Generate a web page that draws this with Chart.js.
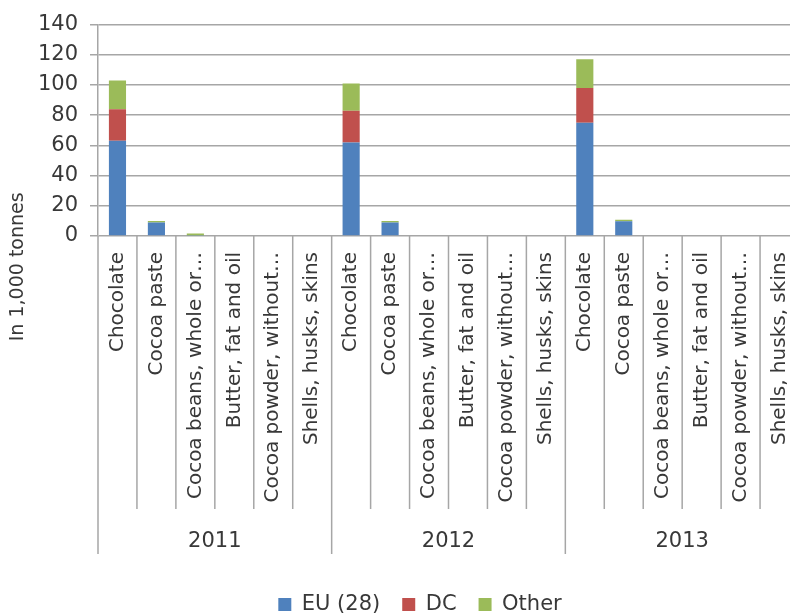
<!DOCTYPE html>
<html>
<head>
<meta charset="utf-8">
<script src="https://cdn.jsdelivr.net/npm/chart.js@4.4.1/dist/chart.umd.min.js"></script>
<style>
  html, body { margin: 0; padding: 0; overflow: hidden; background: #fff; }
  #wrap { width: 840px; height: 630px; }
</style>
</head>
<body>
<div id="wrap"><canvas id="trade" width="840" height="630"></canvas></div>
<script>
// products shown under each year
const products = ['Chocolate', 'Cocoa paste', 'Cocoa beans, whole or\u2026', 'Butter, fat and oil', 'Cocoa powder, without\u2026', 'Shells, husks, skins'];
const years = ['2011', '2012', '2013'];

// in 1,000 tonnes, 2011 | 2012 | 2013
const euValues    = [63, 9, 0.3, 0, 0, 0,   62, 9, 0, 0, 0, 0,   75, 9.7, 0, 0, 0, 0];
const dcValues    = [21, 0, 0, 0, 0, 0,     21, 0, 0, 0, 0, 0,   23, 0, 0, 0, 0, 0];
const otherValues = [19, 1, 1.3, 0, 0, 0,   18, 1, 0, 0, 0, 0,   19, 1.1, 0, 0, 0, 0];

const yTicks = [0, 20, 40, 60, 80, 100, 120, 140];

const labels = [];
years.forEach(() => products.forEach(p => labels.push(p)));

const GRID = '#a6a6a6';
const TEXT = '#383838';
const FONT = 'DejaVu Sans';
Chart.defaults.font.family = FONT;
Chart.defaults.font.size = 21;
Chart.defaults.color = TEXT;

// vertical separators between products and between years, plus the axis title
const dividers = {
    id: 'dividers',
    afterDraw(chart) {
        const ctx = chart.ctx;
        const x = chart.scales.x;
        const yr = chart.scales.years;
        const n = labels.length;
        const per = products.length;
        const step = x.width / n;
        ctx.save();
        ctx.strokeStyle = GRID;
        ctx.lineWidth = 1.5;
        for (let i = 0; i <= n; i++) {
            const px = x.left + i * step;
            const bottom = i % per === 0 ? yr.top + 45 : x.bottom;
            ctx.beginPath();
            ctx.moveTo(px, x.top);
            ctx.lineTo(px, bottom);
            ctx.stroke();
        }
        // y axis title, centred over plot + product labels
        ctx.translate(18, (chart.chartArea.top + x.bottom) / 2);
        ctx.rotate(-Math.PI / 2);
        ctx.fillStyle = TEXT;
        ctx.font = '19px "' + FONT + '"';
        ctx.textAlign = 'center';
        ctx.textBaseline = 'middle';
        ctx.fillText('In 1,000 tonnes', 0, 0);
        ctx.restore();
    }
};

new Chart(document.getElementById('trade'), {
    type: 'bar',
    data: {
        labels: labels,
        datasets: [
            { label: 'EU (28)', data: euValues, backgroundColor: '#4f81bd', xAxisID: 'x', yAxisID: 'y' },
            { label: 'DC', data: dcValues, backgroundColor: '#c0504d', xAxisID: 'x', yAxisID: 'y' },
            { label: 'Other', data: otherValues, backgroundColor: '#9bbb59', xAxisID: 'x', yAxisID: 'y' }
        ]
    },
    options: {
        responsive: false,
        devicePixelRatio: 1,
        animation: false,
        barPercentage: 0.44,
        categoryPercentage: 1,
        layout: { padding: { top: 23, right: 0, bottom: 5, left: 0 } },
        plugins: {
            tooltip: { enabled: false },
            legend: {
                position: 'bottom',
                labels: { boxWidth: 13, boxHeight: 13, padding: 22, color: TEXT }
            }
        },
        scales: {
            x: {
                stacked: true,
                offset: true,
                grid: { display: false },
                border: { display: false },
                ticks: { autoSkip: false, minRotation: 90, maxRotation: 90, padding: 8, font: { size: 20 } },
                afterFit(s) { s.height = 273; }
            },
            years: {
                type: 'category',
                labels: years,
                position: 'bottom',
                weight: 1,
                offset: true,
                grid: { display: false },
                border: { display: false },
                ticks: { padding: 12 },
                afterFit(s) { s.height = 63; }
            },
            y: {
                stacked: true,
                min: 0,
                max: 140,
                afterBuildTicks(s) { s.ticks = yTicks.map(v => ({ value: v })); },
                grid: { color: GRID, lineWidth: 1.5, tickLength: 8 },
                border: { color: GRID, width: 1.5 },
                ticks: { padding: 12 },
                afterFit(s) { s.width = 98; }
            },
            spacer: {
                type: 'linear',
                position: 'right',
                grid: { display: false },
                border: { display: false },
                ticks: { display: false },
                afterFit(s) { s.width = 41; }
            }
        }
    },
    plugins: [dividers]
});
</script>
</body>
</html>
